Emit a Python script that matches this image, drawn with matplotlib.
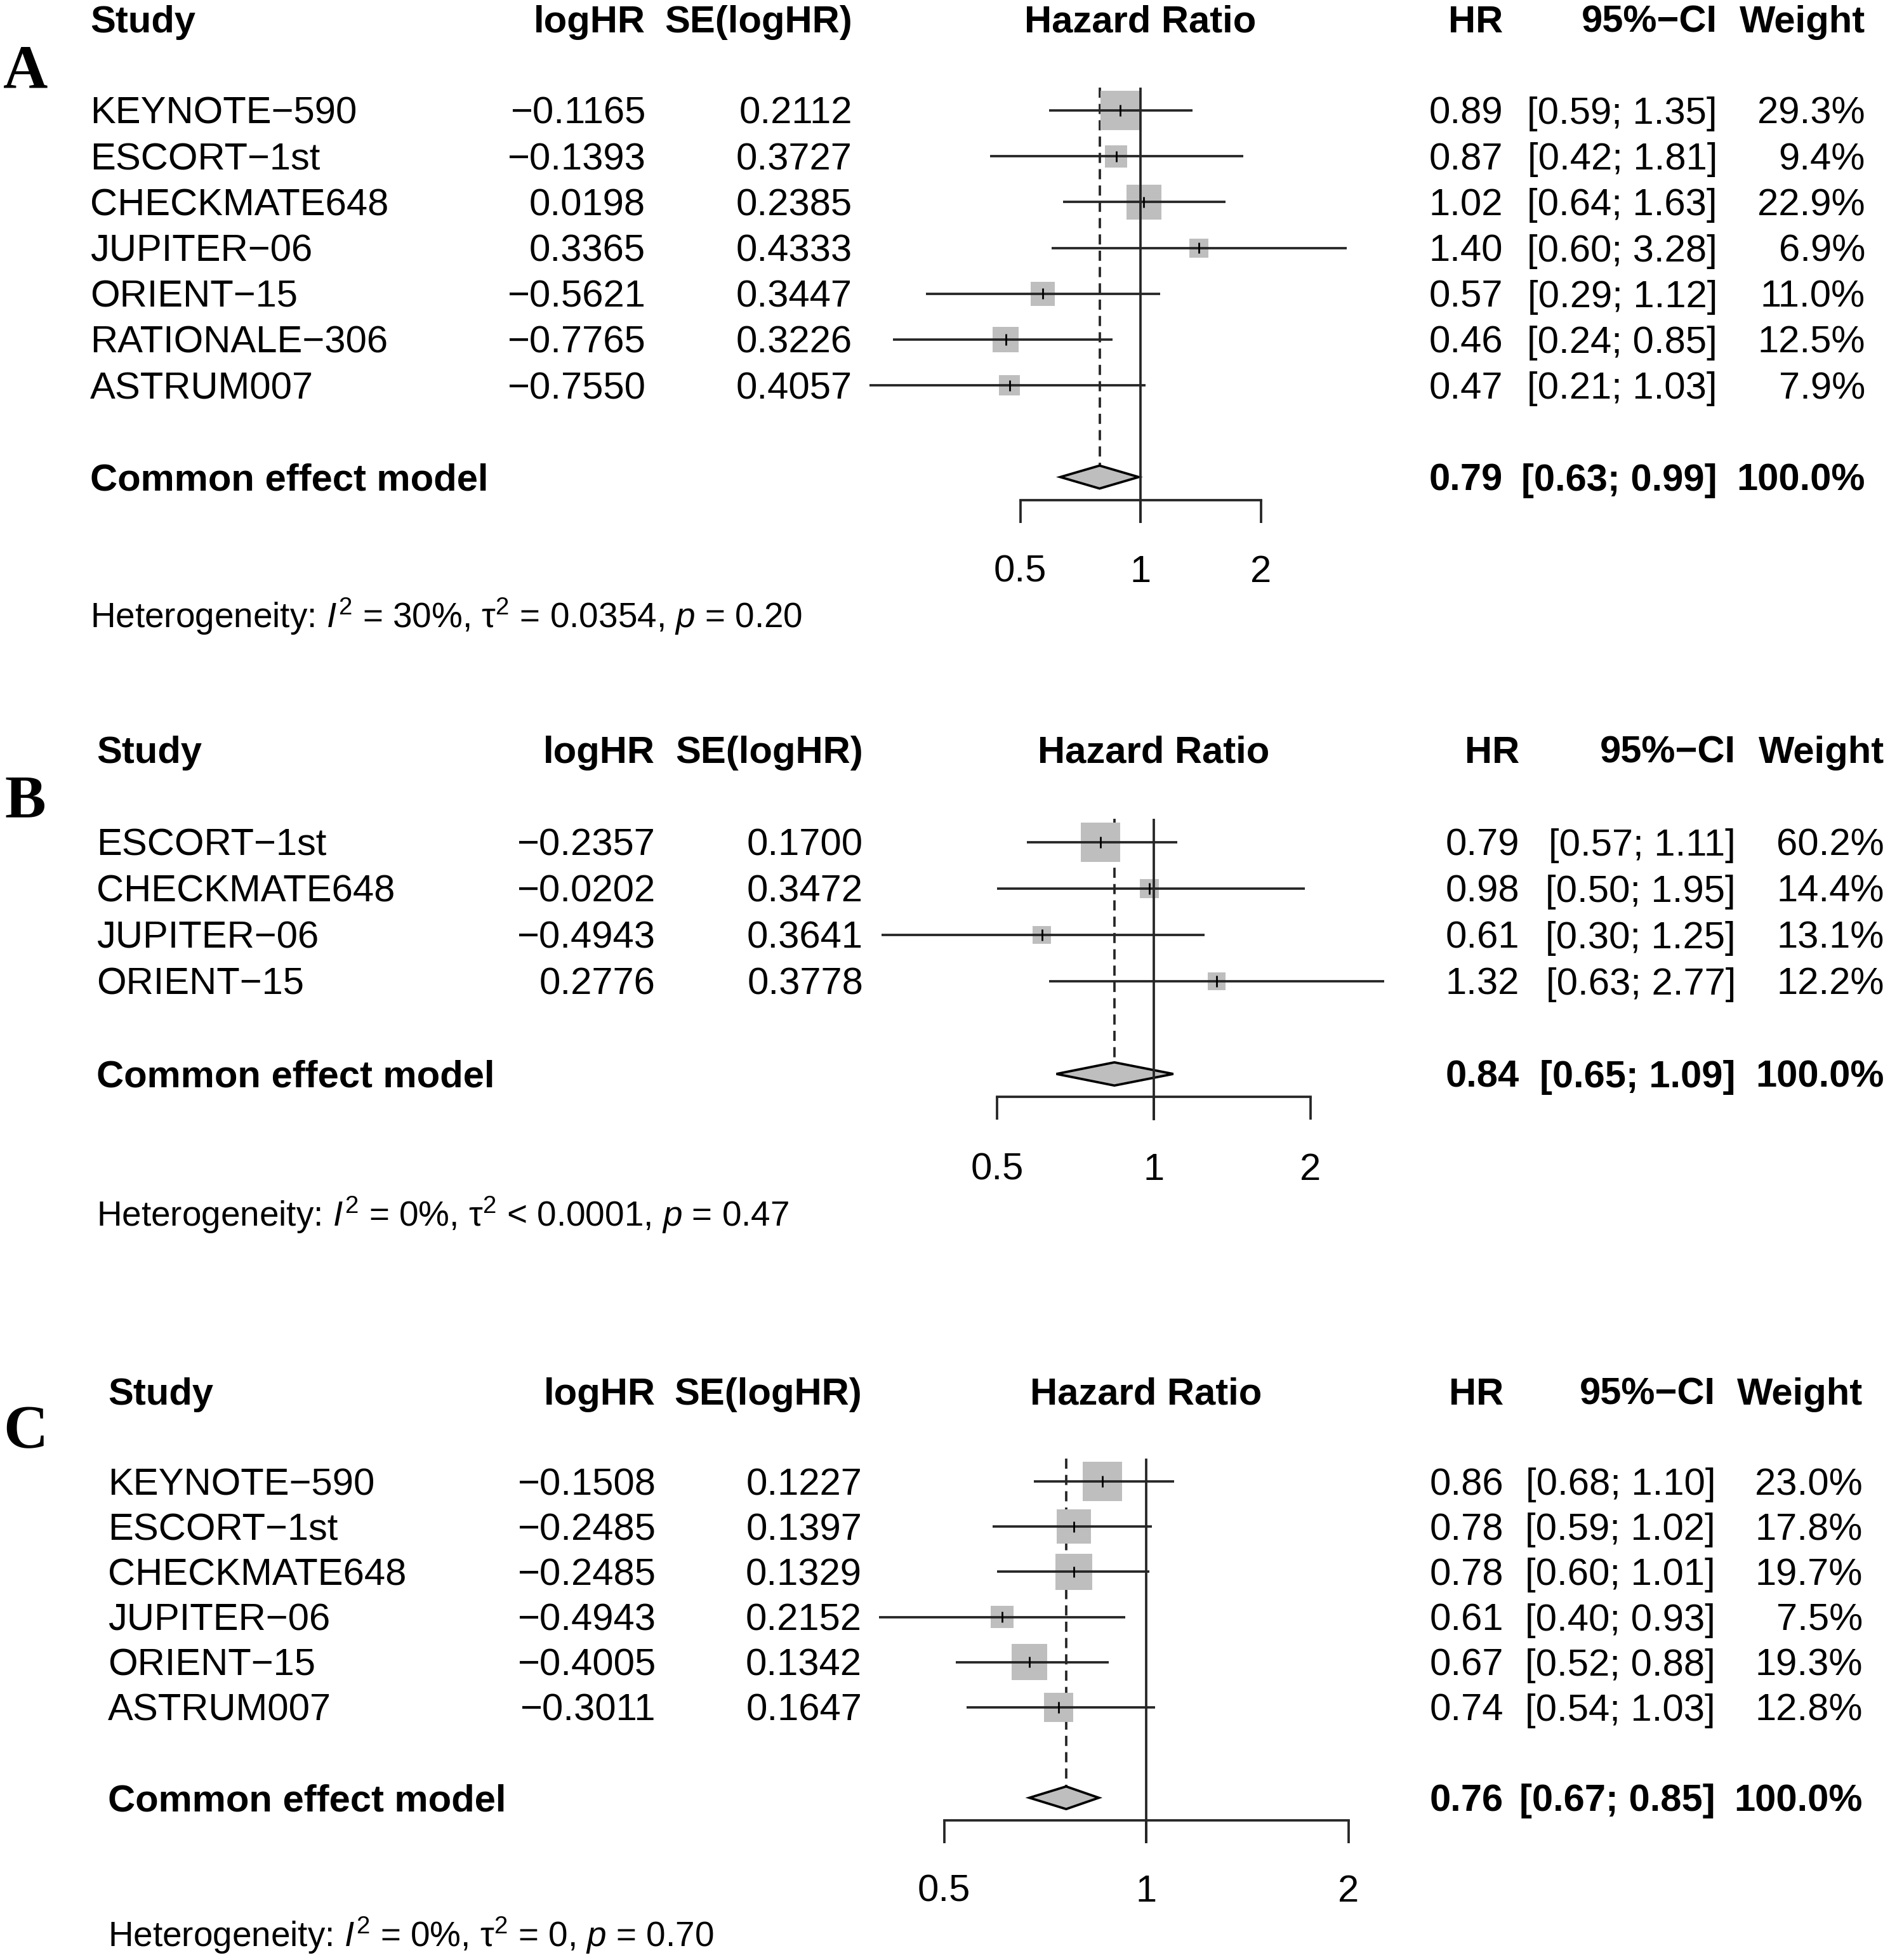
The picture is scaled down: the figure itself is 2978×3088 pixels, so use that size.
import numpy as np
import matplotlib
matplotlib.use('Agg')
import matplotlib.pyplot as plt
from matplotlib.transforms import blended_transform_factory
from matplotlib.patches import Polygon
from matplotlib.ticker import NullLocator

plt.rcParams['font.family'] = 'Liberation Sans'
plt.rcParams['mathtext.fontset'] = 'custom'
plt.rcParams['mathtext.rm'] = 'Liberation Sans'
plt.rcParams['mathtext.it'] = 'Liberation Sans:italic'
plt.rcParams['mathtext.bf'] = 'Liberation Sans:bold'
plt.rcParams['lines.scale_dashes'] = False

W, H, DPI = 2978, 3088, 100
FS = 43
FS_HET = 39.5
LW = 2.7
LINE = '#262626'
SQUARE = '#bebebe'

# Panel A: all trials
studies_a = ['KEYNOTE−590', 'ESCORT−1st', 'CHECKMATE648', 'JUPITER−06',
             'ORIENT−15', 'RATIONALE−306', 'ASTRUM007']
loghr_a = [-0.1165, -0.1393, 0.0198, 0.3365, -0.5621, -0.7765, -0.7550]
se_a = [0.2112, 0.3727, 0.2385, 0.4333, 0.3447, 0.3226, 0.4057]
hr_a = [0.89, 0.87, 1.02, 1.40, 0.57, 0.46, 0.47]
lo_a = [0.59, 0.42, 0.64, 0.60, 0.29, 0.24, 0.21]
hi_a = [1.35, 1.81, 1.63, 3.28, 1.12, 0.85, 1.03]
w_a = [29.3, 9.4, 22.9, 6.9, 11.0, 12.5, 7.9]
pooled_a = [0.79, 0.63, 0.99, 100.0]
het_a = r'Heterogeneity: $I^2$ = 30%, τ$^2$ = 0.0354, $p$ = 0.20'

# Panel B
studies_b = ['ESCORT−1st', 'CHECKMATE648', 'JUPITER−06', 'ORIENT−15']
loghr_b = [-0.2357, -0.0202, -0.4943, 0.2776]
se_b = [0.1700, 0.3472, 0.3641, 0.3778]
hr_b = [0.79, 0.98, 0.61, 1.32]
lo_b = [0.57, 0.50, 0.30, 0.63]
hi_b = [1.11, 1.95, 1.25, 2.77]
w_b = [60.2, 14.4, 13.1, 12.2]
pooled_b = [0.84, 0.65, 1.09, 100.0]
het_b = r'Heterogeneity: $I^2$ = 0%, τ$^2$ < 0.0001, $p$ = 0.47'

# Panel C
studies_c = ['KEYNOTE−590', 'ESCORT−1st', 'CHECKMATE648', 'JUPITER−06',
             'ORIENT−15', 'ASTRUM007']
loghr_c = [-0.1508, -0.2485, -0.2485, -0.4943, -0.4005, -0.3011]
se_c = [0.1227, 0.1397, 0.1329, 0.2152, 0.1342, 0.1647]
hr_c = [0.86, 0.78, 0.78, 0.61, 0.67, 0.74]
lo_c = [0.68, 0.59, 0.60, 0.40, 0.52, 0.54]
hi_c = [1.10, 1.02, 1.01, 0.93, 0.88, 1.03]
w_c = [23.0, 17.8, 19.7, 7.5, 19.3, 12.8]
pooled_c = [0.76, 0.67, 0.85, 100.0]
het_c = r'Heterogeneity: $I^2$ = 0%, τ$^2$ = 0, $p$ = 0.70'

ticks = [0.5, 1, 2]

# layout in pixels (x of HR=1, px per doubling, first row centre, row step, column edges)
lay_a = dict(x1=1797, u=189.5, row0=174, step=72.2, xs=142, xl=1017, xse=1343,
             xhr=2368, xci=2706, xw=2939, letter_y=137)
lay_b = dict(x1=1818, u=247, row0=1327, step=73.0, xs=152, xl=1032, xse=1360,
             xhr=2394, xci=2735, xw=2969, letter_y=1288)
lay_c = dict(x1=1806, u=318.5, row0=2334, step=71.2, xs=170, xl=1033, xse=1358,
             xhr=2369, xci=2703, xw=2935, letter_y=2281)

fig = plt.figure(figsize=(W / DPI, H / DPI), dpi=DPI)


def fmt(v, nd):
    return f'{v:.{nd}f}'.replace('-', '\u2212')


def draw_panel(letter, studies, loghr, se, hr, lo, hi, w, pooled, het, lay):
    n = len(studies)
    s = lay['step']
    xa, xb = 1200, 2400
    top_px = lay['row0'] - 3 * s
    bot_px = lay['row0'] + (n + 5) * s
    ax = fig.add_axes([xa / W, 1 - bot_px / H, (xb - xa) / W, (bot_px - top_px) / H])
    ax.patch.set_visible(False)
    ax.set_xscale('log', base=2)
    ax.set_xlim(2 ** ((xa - lay['x1']) / lay['u']), 2 ** ((xb - lay['x1']) / lay['u']))
    ax.set_ylim(n + 5, -3)
    for sp in ['top', 'left', 'right']:
        ax.spines[sp].set_visible(False)
    ax.spines['bottom'].set_position(('data', n + 1.5))
    ax.spines['bottom'].set_bounds(ticks[0], ticks[-1])
    ax.spines['bottom'].set_linewidth(LW)
    ax.spines['bottom'].set_color(LINE)
    ax.set_xticks(ticks)
    ax.xaxis.set_minor_locator(NullLocator())
    ax.tick_params(axis='x', length=0.5 * s * 0.72, width=LW, color=LINE,
                   direction='out', labelbottom=False)
    ax.set_yticks([])

    rows = np.arange(n)
    est, plo, phi, pw = pooled

    # reference lines
    ax.plot([1, 1], [-0.5, n + 2], color=LINE, lw=LW, zorder=4, solid_capstyle='butt')
    ax.plot([est, est], [-0.5, n + 1 - 0.26], color=LINE, lw=LW, zorder=1,
            dashes=(11.5, 7))

    # study squares sized by weight
    side = 62 * np.sqrt(np.array(w) / max(w)) * 0.72
    ax.scatter(hr, rows, marker='s', s=side ** 2, color=SQUARE, linewidths=0, zorder=2)
    ax.hlines(rows, lo, hi, color=LINE, lw=LW, zorder=3)
    ax.vlines(hr, rows - 0.12, rows + 0.12, color='black', lw=2.0, zorder=5)

    # pooled diamond
    yd = n + 1
    ax.add_patch(Polygon([[plo, yd], [est, yd - 0.25], [phi, yd], [est, yd + 0.25]],
                         closed=True, facecolor=SQUARE, edgecolor='black', lw=LW, zorder=3))

    off = 21 / s
    tr = blended_transform_factory(fig.transFigure, ax.transData)

    def put(x, y, txt, ha='left', bold=False, fs=FS):
        ax.text(x / W, y + off, txt, transform=tr, ha=ha, va='baseline', fontsize=fs,
                fontweight='bold' if bold else 'normal', clip_on=False)

    # header
    put(lay['xs'], -2, 'Study', bold=True)
    put(lay['xl'], -2, 'logHR', 'right', True)
    put(lay['xse'], -2, 'SE(logHR)', 'right', True)
    put(lay['x1'], -2, 'Hazard Ratio', 'center', True)
    put(lay['xhr'], -2, 'HR', 'right', True)
    put(lay['xci'], -2, '95%\u2212CI', 'right', True)
    put(lay['xw'], -2, 'Weight', 'right', True)

    for i in range(n):
        put(lay['xs'], i, studies[i])
        put(lay['xl'], i, fmt(loghr[i], 4), 'right')
        put(lay['xse'], i, fmt(se[i], 4), 'right')
        put(lay['xhr'], i, fmt(hr[i], 2), 'right')
        put(lay['xci'], i, f'[{fmt(lo[i], 2)}; {fmt(hi[i], 2)}]', 'right')
        put(lay['xw'], i, f'{w[i]:.1f}%', 'right')

    put(lay['xs'], yd, 'Common effect model', bold=True)
    put(lay['xhr'], yd, fmt(est, 2), 'right', True)
    put(lay['xci'], yd, f'[{fmt(plo, 2)}; {fmt(phi, 2)}]', 'right', True)
    put(lay['xw'], yd, f'{pw:.1f}%', 'right', True)

    # tick labels
    for t in ticks:
        ax.text(t, n + 3 + off, f'{t:g}', ha='center', va='baseline', fontsize=FS,
                clip_on=False)

    put(lay['xs'], n + 4, het, fs=FS_HET)

    fig.text(40 / W, 1 - lay['letter_y'] / H, letter, ha='center', va='baseline',
             fontsize=70, fontweight='bold', family='Liberation Serif')


draw_panel('A', studies_a, loghr_a, se_a, hr_a, lo_a, hi_a, w_a, pooled_a, het_a, lay_a)
draw_panel('B', studies_b, loghr_b, se_b, hr_b, lo_b, hi_b, w_b, pooled_b, het_b, lay_b)
draw_panel('C', studies_c, loghr_c, se_c, hr_c, lo_c, hi_c, w_c, pooled_c, het_c, lay_c)

fig.savefig('out.png', dpi=DPI, facecolor='white')
